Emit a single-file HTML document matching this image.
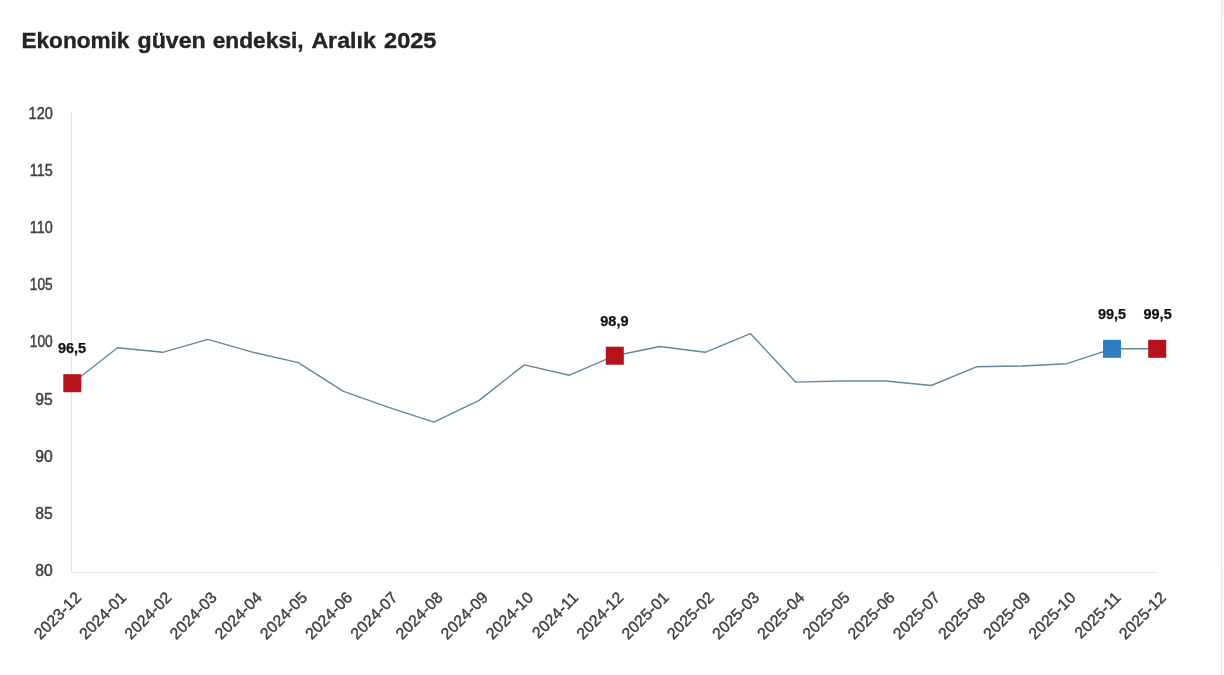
<!DOCTYPE html>
<html lang="tr"><head><meta charset="utf-8"><title>Ekonomik güven endeksi, Aralık 2025</title>
<style>
html,body{margin:0;padding:0;background:#fff;}
body{width:1224px;height:675px;overflow:hidden;position:relative;font-family:"Liberation Sans",sans-serif;}
svg{will-change:transform;position:absolute;left:0;top:0;display:block}
.title{font-family:"Liberation Sans",sans-serif;font-weight:bold;font-size:21.2px;fill:#242424;stroke:#242424;stroke-width:0.35px}
.yl{font-family:"Liberation Sans",sans-serif;font-size:15.7px;fill:#404040;stroke:#404040;stroke-width:0.45px;text-anchor:end}
.xl{font-family:"Liberation Sans",sans-serif;font-size:15.9px;letter-spacing:0.08px;fill:#404040;stroke:#404040;stroke-width:0.4px;text-anchor:end}
.dl{font-family:"Liberation Sans",sans-serif;font-weight:bold;font-size:14.5px;fill:#111;stroke:#111;stroke-width:0.25px;text-anchor:middle}
</style></head><body>
<svg width="1224" height="675" viewBox="0 0 1224 675">
<rect width="1224" height="675" fill="#fff"/>
<rect x="1221" y="0" width="1" height="675" fill="#e6e6e6"/>
<rect x="1222" y="0" width="2" height="16" fill="#f7f7f7"/>
<rect x="1222" y="568" width="2" height="36" fill="#f9f9f9"/>
<text class="title" y="48.4"><tspan x="21.5" textLength="107.9" lengthAdjust="spacingAndGlyphs">Ekonomik</tspan> <tspan x="137.5" textLength="68.2" lengthAdjust="spacingAndGlyphs">güven</tspan> <tspan x="212.7" textLength="91.0" lengthAdjust="spacingAndGlyphs">endeksi,</tspan> <tspan x="311.4" textLength="64.4" lengthAdjust="spacingAndGlyphs">Aralık</tspan> <tspan x="384.1" textLength="52.3" lengthAdjust="spacingAndGlyphs">2025</tspan> </text>
<path d="M71.5 112V572.5H1157" fill="none" stroke="#e2e2e2" stroke-width="1"/>
<text class="yl" x="52.8" y="576.4">80</text>
<text class="yl" x="52.8" y="519.1">85</text>
<text class="yl" x="52.8" y="461.9">90</text>
<text class="yl" x="52.8" y="404.7">95</text>
<text class="yl" x="52.8" y="347.4" textLength="23.0" lengthAdjust="spacingAndGlyphs">100</text>
<text class="yl" x="52.8" y="290.2" textLength="23.0" lengthAdjust="spacingAndGlyphs">105</text>
<text class="yl" x="52.8" y="233.0" textLength="23.0" lengthAdjust="spacingAndGlyphs">110</text>
<text class="yl" x="52.8" y="175.7" textLength="23.0" lengthAdjust="spacingAndGlyphs">115</text>
<text class="yl" x="52.8" y="118.5" textLength="24.2" lengthAdjust="spacingAndGlyphs">120</text>
<polyline points="72.3,383.2 117.5,347.7 162.7,352.3 207.9,339.4 253.1,352.3 298.3,362.6 343.5,391.3 388.7,407.3 433.9,422.2 479.1,400.4 524.3,364.9 569.5,375.2 614.8,355.7 660.0,346.5 705.2,352.3 750.4,333.6 795.6,382.1 840.8,381.0 886.0,381.0 931.2,385.5 976.4,366.8 1021.6,366.0 1066.8,363.7 1112.0,348.8 1157.2,348.8" fill="none" stroke="#63889c" stroke-width="1.4" stroke-linejoin="round"/>
<rect x="63.3" y="374.2" width="18" height="18" fill="#b5121b"/>
<rect x="605.8" y="346.7" width="18" height="18" fill="#b5121b"/>
<rect x="1103.0" y="339.8" width="18" height="18" fill="#2e7ec0"/>
<rect x="1148.2" y="339.8" width="18" height="18" fill="#b5121b"/>
<text class="dl" x="72.0" y="352.8">96,5</text>
<text class="dl" x="614.4" y="325.7">98,9</text>
<text class="dl" x="1112.0" y="318.6">99,5</text>
<text class="dl" x="1157.6" y="318.6">99,5</text>
<text class="xl" transform="translate(82.2,598.5) rotate(-45)">2023-12</text>
<text class="xl" transform="translate(127.4,598.5) rotate(-45)">2024-01</text>
<text class="xl" transform="translate(172.6,598.5) rotate(-45)">2024-02</text>
<text class="xl" transform="translate(217.8,598.5) rotate(-45)">2024-03</text>
<text class="xl" transform="translate(263.0,598.5) rotate(-45)">2024-04</text>
<text class="xl" transform="translate(308.2,598.5) rotate(-45)">2024-05</text>
<text class="xl" transform="translate(353.4,598.5) rotate(-45)">2024-06</text>
<text class="xl" transform="translate(398.6,598.5) rotate(-45)">2024-07</text>
<text class="xl" transform="translate(443.8,598.5) rotate(-45)">2024-08</text>
<text class="xl" transform="translate(489.0,598.5) rotate(-45)">2024-09</text>
<text class="xl" transform="translate(534.2,598.5) rotate(-45)">2024-10</text>
<text class="xl" transform="translate(579.4,598.5) rotate(-45)">2024-11</text>
<text class="xl" transform="translate(624.6,598.5) rotate(-45)">2024-12</text>
<text class="xl" transform="translate(669.9,598.5) rotate(-45)">2025-01</text>
<text class="xl" transform="translate(715.1,598.5) rotate(-45)">2025-02</text>
<text class="xl" transform="translate(760.3,598.5) rotate(-45)">2025-03</text>
<text class="xl" transform="translate(805.5,598.5) rotate(-45)">2025-04</text>
<text class="xl" transform="translate(850.7,598.5) rotate(-45)">2025-05</text>
<text class="xl" transform="translate(895.9,598.5) rotate(-45)">2025-06</text>
<text class="xl" transform="translate(941.1,598.5) rotate(-45)">2025-07</text>
<text class="xl" transform="translate(986.3,598.5) rotate(-45)">2025-08</text>
<text class="xl" transform="translate(1031.5,598.5) rotate(-45)">2025-09</text>
<text class="xl" transform="translate(1076.7,598.5) rotate(-45)">2025-10</text>
<text class="xl" transform="translate(1121.9,598.5) rotate(-45)">2025-11</text>
<text class="xl" transform="translate(1167.1,598.5) rotate(-45)">2025-12</text>
</svg></body></html>
